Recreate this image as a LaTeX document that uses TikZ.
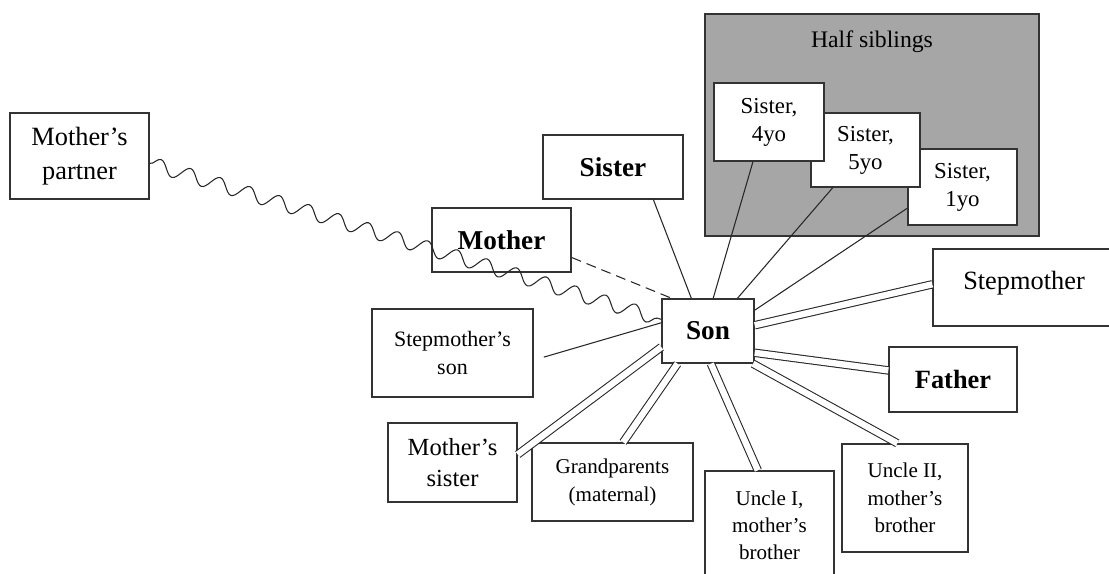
\documentclass[tikz,border=0pt]{standalone}
\usepackage{fontspec}
\setmainfont{Liberation Serif}
\usetikzlibrary{decorations.pathmorphing}

\tikzset{
  box/.style={draw=black!80, line width=0.8pt, fill=white, align=center, inner sep=1pt},
  big/.style={font=\fontsize{15}{19}\selectfont},
  bold/.style={font=\fontsize{15.5}{19}\selectfont\bfseries},
  small/.style={font=\fontsize{12.5}{16}\selectfont},
  sis/.style={font=\fontsize{13}{16}\selectfont},
  tie/.style={draw=black!85, line width=0.6pt},
  kin/.style={draw=black!85, line width=0.6pt, double=white, double distance=3.6pt},
}

\begin{document}
\begin{tikzpicture}[x=0.02cm, y=-0.02cm]
\useasboundingbox (0,0) rectangle (1109,574);
\clip (0,0) rectangle (1109,574);

\node[box, fill=black!35, minimum width=6.68cm, minimum height=4.44cm] (half) at (872,125) {};
\node[sis, font=\fontsize{13.5}{16}\selectfont] (halflabel) at ([yshift=-0.56cm]half.north) {Half siblings};
\node[box, sis, minimum width=2.18cm, minimum height=1.52cm] (sis1) at (962.5,187) {Sister,\\1yo};
\node[box, sis, minimum width=2.18cm, minimum height=1.48cm] (sis5) at (865.5,150) {Sister,\\5yo};
\node[box, sis, minimum width=2.20cm, minimum height=1.56cm] (sis4) at (769,122) {Sister,\\4yo};

\node[box, big, minimum width=2.78cm, minimum height=1.72cm] (partner) at (79.5,156) {Mother's\\partner};
\node[box, bold, minimum width=2.78cm, minimum height=1.28cm] (mother) at (501.5,240) {Mother};
\node[box, bold, minimum width=2.80cm, minimum height=1.28cm] (sister) at (613,167) {Sister};
\node[box, bold, minimum width=1.84cm, minimum height=1.28cm] (son) at (708,331) {Son};
\node[box, font=\fontsize{15}{19}\selectfont, text depth=0.28cm, minimum width=3.64cm, minimum height=1.54cm] (stepmother) at (1024,287.5) {Stepmother};
\node[box, font=\fontsize{15}{19}\selectfont\bfseries, minimum width=2.56cm, minimum height=1.30cm] (father) at (953,379.5) {Father};
\node[box, small, minimum width=3.22cm, minimum height=1.76cm] (stepson) at (452.5,353) {Stepmother's\\son};
\node[box, font=\fontsize{14}{18}\selectfont, minimum width=2.58cm, minimum height=1.58cm] (aunt) at (452.5,462.5) {Mother's\\sister};
\node[box, font=\fontsize{12}{16}\selectfont, minimum width=3.22cm, minimum height=1.56cm] (grandp) at (612.5,482) {Grandparents\\(maternal)};
\node[box, font=\fontsize{12}{15.5}\selectfont, minimum width=2.58cm, minimum height=2.18cm] (uncle1) at (769.5,525.5) {Uncle I,\\mother's\\brother};
\node[box, font=\fontsize{12}{15.5}\selectfont, minimum width=2.52cm, minimum height=2.16cm] (uncle2) at (905,498) {Uncle II,\\mother's\\brother};

\draw[tie] (sister.-39) -- (son.117);
\draw[tie] (sis4.-112) -- (son.81);
\draw[tie] (sis5.-131) -- (son.48);
\draw[tie] (sis1.201) -- (son.24);
\draw[tie, shorten <=0.21cm] (stepson.-5) -- (son.170);
\draw[tie, dash pattern=on 0.2cm off 0.12cm] (mother.-14) -- (son.138);
\draw[kin] (stepmother.178) -- (son.7);
\draw[kin] (father.172) -- (son.-25);
\draw[kin] (uncle2.98) -- (son.-36);
\draw[kin] (uncle1.102) -- (son.-85);
\draw[kin] (grandp.75) -- (son.-133);
\draw[kin] (aunt.7) -- (son.199);
\draw[tie, decorate, decoration={snake, segment length=0.62cm, amplitude=0.14cm}] (partner.-6) -- (son.166);
\end{tikzpicture}
\end{document}
